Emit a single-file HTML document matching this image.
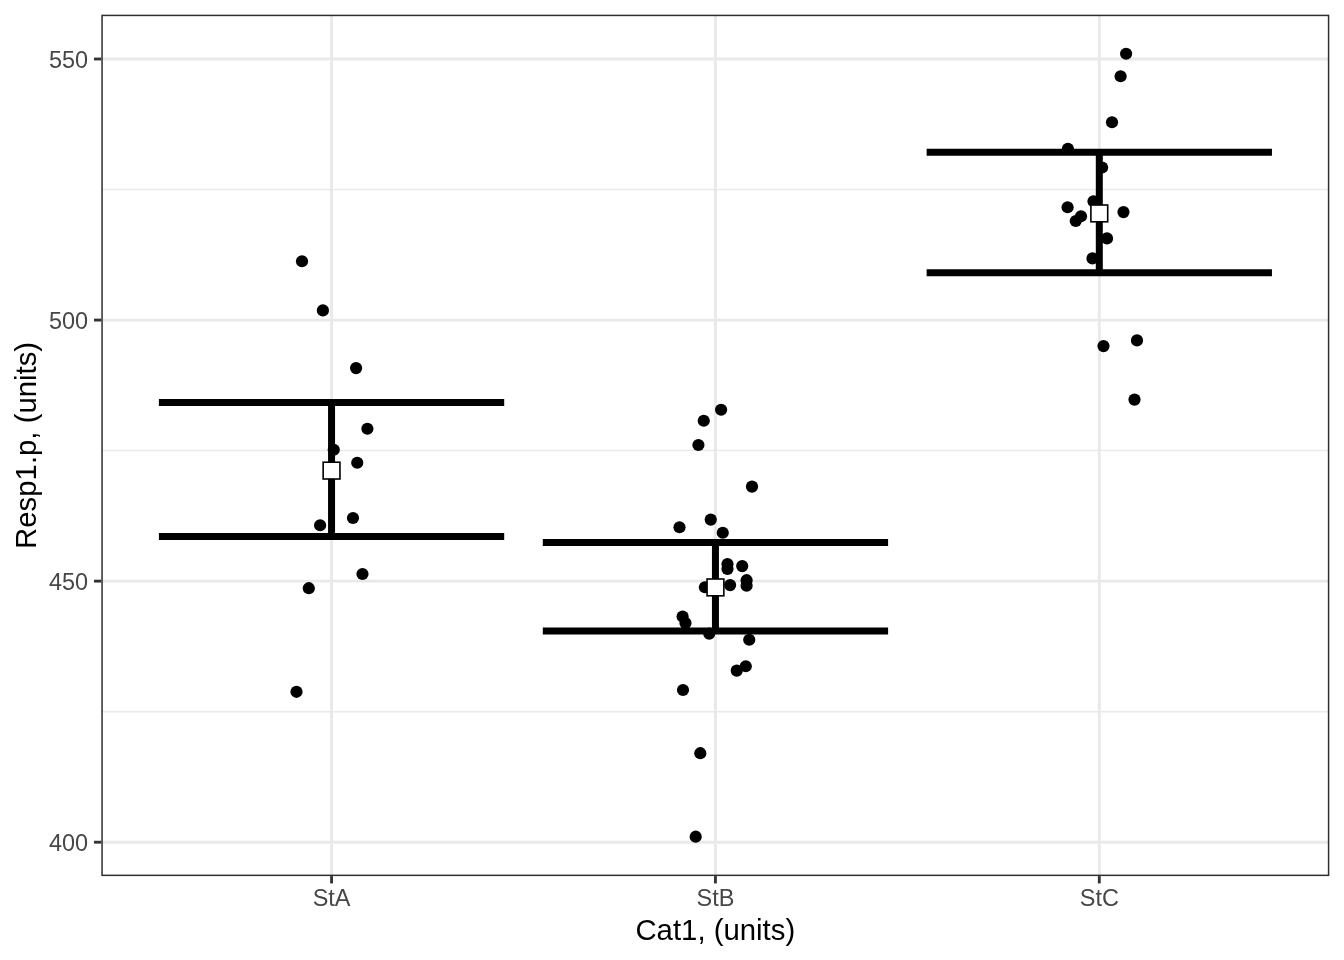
<!DOCTYPE html>
<html lang="en">
<head>
<meta charset="utf-8">
<title>Resp1.p by Cat1</title>
<style>
html,body{margin:0;padding:0;background:#fff;}
body{width:1344px;height:960px;overflow:hidden;}
svg{display:block;}
text{font-family:"Liberation Sans","Helvetica","Arial",sans-serif;}
.ax{font-size:23.47px;fill:#474747;}
.ti{font-size:29.33px;fill:#000;}
</style>
</head>
<body>
<svg width="1344" height="960" viewBox="0 0 1344 960">
<rect x="0" y="0" width="1344" height="960" fill="#ffffff"/>
<clipPath id="pc"><rect x="101.3" y="14.67" width="1228.03" height="861.43"/></clipPath>
<g clip-path="url(#pc)">
<g stroke="#e9e9e9" stroke-width="1.5" fill="none">
<line x1="101.3" x2="1329.33" y1="711.67" y2="711.67"/>
<line x1="101.3" x2="1329.33" y1="450.60" y2="450.60"/>
<line x1="101.3" x2="1329.33" y1="189.54" y2="189.54"/>
</g>
<g stroke="#e9e9e9" stroke-width="2.85" fill="none">
<line x1="101.3" x2="1329.33" y1="842.20" y2="842.20"/>
<line x1="101.3" x2="1329.33" y1="581.13" y2="581.13"/>
<line x1="101.3" x2="1329.33" y1="320.07" y2="320.07"/>
<line x1="101.3" x2="1329.33" y1="59.00" y2="59.00"/>
<line x1="331.55" x2="331.55" y1="14.67" y2="876.1"/>
<line x1="715.45" x2="715.45" y1="14.67" y2="876.1"/>
<line x1="1099.3" x2="1099.3" y1="14.67" y2="876.1"/>
</g>
<g fill="#000000">
<circle cx="302" cy="261.25" r="6.1"/>
<circle cx="322.9" cy="310.4" r="6.1"/>
<circle cx="356.1" cy="368.1" r="6.1"/>
<circle cx="367.4" cy="428.75" r="6.1"/>
<circle cx="333.75" cy="449.75" r="6.1"/>
<circle cx="357.25" cy="462.75" r="6.1"/>
<circle cx="353" cy="518" r="6.1"/>
<circle cx="320.1" cy="525.25" r="6.1"/>
<circle cx="362.5" cy="574" r="6.1"/>
<circle cx="308.8" cy="588.2" r="6.1"/>
<circle cx="296.5" cy="691.8" r="6.1"/>
<circle cx="721.1" cy="409.75" r="6.1"/>
<circle cx="703.75" cy="420.75" r="6.1"/>
<circle cx="698.4" cy="445" r="6.1"/>
<circle cx="752" cy="486.6" r="6.1"/>
<circle cx="679.5" cy="527.25" r="6.1"/>
<circle cx="710.75" cy="519.6" r="6.1"/>
<circle cx="722.75" cy="532.75" r="6.1"/>
<circle cx="727.5" cy="564.1" r="6.1"/>
<circle cx="727.5" cy="568.9" r="6.1"/>
<circle cx="742.2" cy="566.1" r="6.1"/>
<circle cx="746.6" cy="580.2" r="6.1"/>
<circle cx="746.6" cy="585.75" r="6.1"/>
<circle cx="730.1" cy="585.1" r="6.1"/>
<circle cx="704.9" cy="587.25" r="6.1"/>
<circle cx="682.6" cy="616.5" r="6.1"/>
<circle cx="685.5" cy="623.1" r="6.1"/>
<circle cx="709.25" cy="633.6" r="6.1"/>
<circle cx="749.25" cy="639.75" r="6.1"/>
<circle cx="745.75" cy="666.25" r="6.1"/>
<circle cx="736.75" cy="670.6" r="6.1"/>
<circle cx="683" cy="690" r="6.1"/>
<circle cx="700.3" cy="753.2" r="6.1"/>
<circle cx="695.7" cy="836.7" r="6.1"/>
<circle cx="1126.1" cy="53.75" r="6.1"/>
<circle cx="1120.6" cy="76.25" r="6.1"/>
<circle cx="1112" cy="122.25" r="6.1"/>
<circle cx="1067.9" cy="148.9" r="6.1"/>
<circle cx="1102.1" cy="167.5" r="6.1"/>
<circle cx="1093.5" cy="201.25" r="6.1"/>
<circle cx="1067.6" cy="207.25" r="6.1"/>
<circle cx="1081" cy="216.25" r="6.1"/>
<circle cx="1075.75" cy="221" r="6.1"/>
<circle cx="1123.5" cy="212.1" r="6.1"/>
<circle cx="1107" cy="238.4" r="6.1"/>
<circle cx="1092.5" cy="258.4" r="6.1"/>
<circle cx="1137" cy="340.4" r="6.1"/>
<circle cx="1103.5" cy="346.1" r="6.1"/>
<circle cx="1134.5" cy="399.6" r="6.1"/>
</g>
<g stroke="#000000" stroke-width="7.0" fill="none" stroke-linecap="butt">
<path d="M158.90 402.5H504.20M331.55 402.5V536.5M158.90 536.5H504.20"/>
<path d="M542.80 542.4H888.10M715.45 542.4V631.0M542.80 631.0H888.10"/>
<path d="M926.65 152.25H1271.95M1099.3 152.25V272.75M926.65 272.75H1271.95"/>
</g>
<g stroke="#000000" stroke-width="1.6" fill="#ffffff">
<rect x="323.15" y="462.20" width="16.8" height="16.8"/>
<rect x="707.05" y="579.00" width="16.8" height="16.8"/>
<rect x="1090.90" y="205.00" width="16.8" height="16.8"/>
</g>
</g>
<rect x="102.05" y="15.42" width="1226.53" height="859.93" fill="none" stroke="#2e2e2e" stroke-width="1.5"/>
<g stroke="#333333" stroke-width="2.85" fill="none">
<line x1="93.97" x2="101.3" y1="842.20" y2="842.20"/>
<line x1="93.97" x2="101.3" y1="581.13" y2="581.13"/>
<line x1="93.97" x2="101.3" y1="320.07" y2="320.07"/>
<line x1="93.97" x2="101.3" y1="59.00" y2="59.00"/>
<line x1="331.55" x2="331.55" y1="876.1" y2="883.43"/>
<line x1="715.45" x2="715.45" y1="876.1" y2="883.43"/>
<line x1="1099.3" x2="1099.3" y1="876.1" y2="883.43"/>
</g>
<text class="ax" x="88.1" y="851.20" text-anchor="end">400</text>
<text class="ax" x="88.1" y="590.13" text-anchor="end">450</text>
<text class="ax" x="88.1" y="329.07" text-anchor="end">500</text>
<text class="ax" x="88.1" y="68.00" text-anchor="end">550</text>
<text class="ax" x="331.55" y="905.9" text-anchor="middle">StA</text>
<text class="ax" x="715.45" y="905.9" text-anchor="middle">StB</text>
<text class="ax" x="1099.3" y="905.9" text-anchor="middle">StC</text>
<text class="ti" x="715.31" y="939.8" text-anchor="middle">Cat1, (units)</text>
<text class="ti" transform="translate(36 445.38) rotate(-90)" text-anchor="middle">Resp1.p, (units)</text>
</svg>
</body>
</html>
